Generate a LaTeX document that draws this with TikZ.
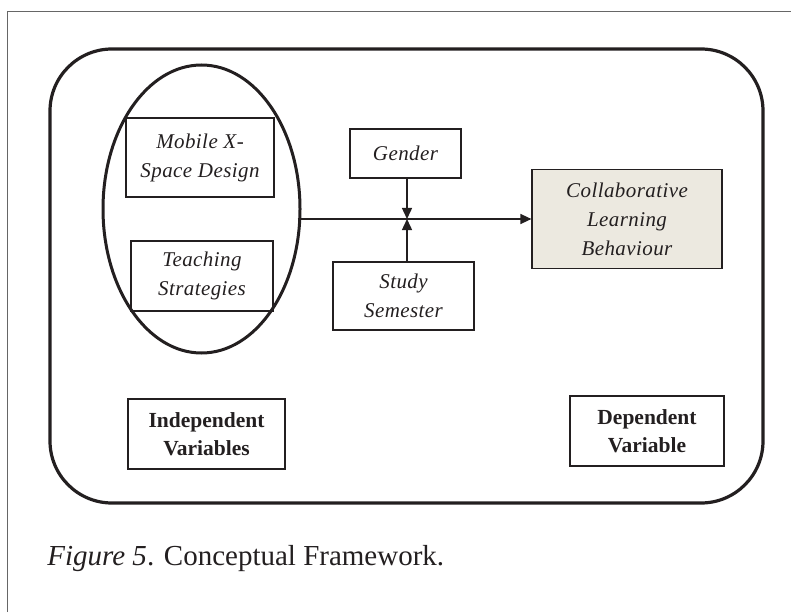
\documentclass[tikz,border=0pt]{standalone}
\usepackage{fontspec}
\setmainfont{Liberation Serif}
\usepackage{xcolor}
\usepackage{tikz}
\usetikzlibrary{positioning, shapes.geometric, arrows.meta}

\definecolor{inkgray}{HTML}{231F20}
\definecolor{beige}{HTML}{ECE9E0}

\begin{document}
\begin{tikzpicture}[x=1pt, y=-1pt, thick, inkgray,
    varbox/.style={draw, rectangle, line width=1.2pt, align=center, inner sep=2pt,
        font=\fontsize{21}{29}\selectfont\itshape\addfontfeatures{LetterSpace=2}},
    labelbox/.style={draw, rectangle, line width=1.2pt, align=center, inner sep=2pt,
        font=\fontsize{21.5}{28}\selectfont\bfseries},
    link/.style={line width=1.4pt, -{Triangle[length=11pt, width=10pt]}}]
    \useasboundingbox (0,0) rectangle (791,612);
    % Page frame and outer boundary
    \draw[gray!80!black, line width=0.9pt] (7,612) -- (7,11) -- (791,11);
    \draw[line width=3.2pt, rounded corners=62pt] (50,49) rectangle (763,503);

    % Nodes
    \node[draw, ellipse, line width=3pt, minimum width=197, minimum height=288] (indep) at (201.5,209) {};
    \node[varbox, minimum width=148, minimum height=79] (mobile) at (200,157.5) {Mobile X-\\Space Design};
    \node[varbox, minimum width=142, minimum height=70] (teaching) at (202,276) {Teaching\\Strategies};
    \node[varbox, minimum width=111, minimum height=49] (gender) at (405.5,153.5) {Gender};
    \node[varbox, minimum width=141, minimum height=68] (semester) at (403.5,296) {Study\\Semester};
    \node[varbox, fill=beige, minimum width=190, minimum height=99] (behaviour) at (627,219) {Collaborative\\Learning\\Behaviour};
    \node[labelbox, minimum width=157, minimum height=70] (indeplabel) at (206.5,434) {Independent\\Variables};
    \node[labelbox, minimum width=154, minimum height=70] (deplabel) at (647,431) {Dependent\\Variable};
    \coordinate (meet) at (407,219);

    % Connections
    \draw[link] ([xshift=-4pt]indep.east |- behaviour) -- (behaviour.west);
    \draw[link] (gender.south -| meet) -- (meet);
    \draw[link] (semester.north -| meet) -- (meet);

    % Caption
    \node[anchor=base west, inner sep=0pt, font=\fontsize{29}{34}\selectfont] (caption) at (47,565)
        {\textit{Figure 5}. Conceptual Framework.};
\end{tikzpicture}
\end{document}
